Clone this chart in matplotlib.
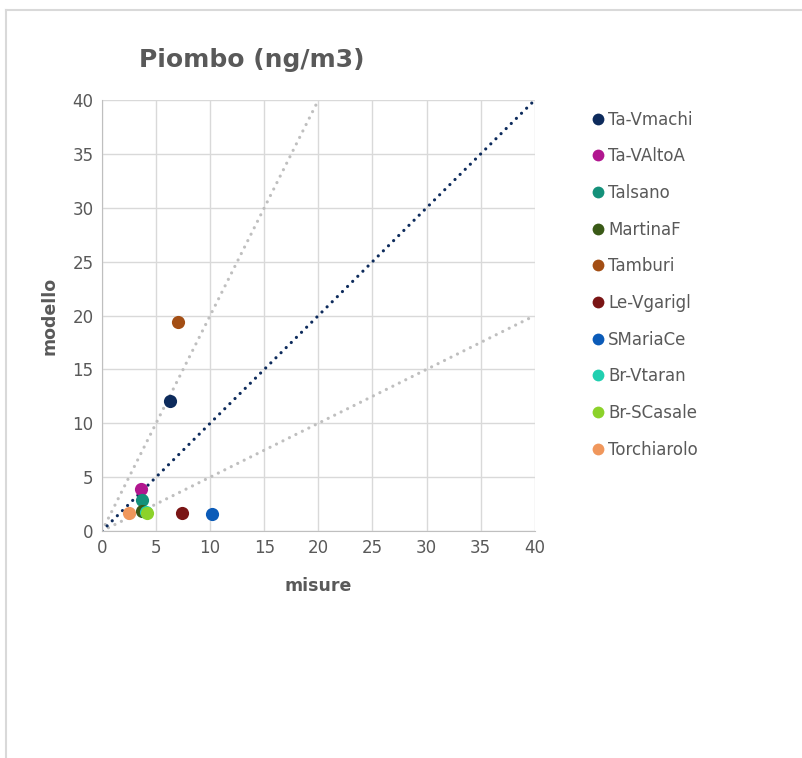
import matplotlib.pyplot as plt
from matplotlib.lines import Line2D

# Station data (measured vs modelled lead, ng/m3)
stations = ['Ta-Vmachi', 'Ta-VAltoA', 'Talsano', 'MartinaF', 'Tamburi',
            'Le-Vgarigl', 'SMariaCe', 'Br-Vtaran', 'Br-SCasale', 'Torchiarolo']
misure = [6.3, 3.6, 3.7, 3.7, 7.0, 7.4, 10.2, 4.1, 4.2, 2.5]
modello = [12.1, 3.9, 2.9, 1.9, 19.4, 1.7, 1.6, 1.8, 1.7, 1.7]
colors = ['#0d2b5c', '#b1168f', '#14917a', '#3a5a17', '#a34e14',
          '#7a1515', '#0b5bb8', '#20cfb0', '#8cd22a', '#f0975c']

ref_x = [0, 40]
ratio_1_1 = [0, 40]
ref_x_2 = [0, 20]
ratio_2_1 = [0, 40]
ratio_1_2 = [0, 20]

txt = '#595959'
grid = '#d9d9d9'
dots = (0, (0.01, 2.25))

fig = plt.figure(figsize=(8.03, 7.58), dpi=100)
ax = fig.add_axes([0.127, 0.2995, 0.539, 0.5685])

ax.plot(ref_x_2, ratio_2_1, color='#bfbfbf', lw=2.3, ls=dots,
        dash_capstyle='round', zorder=2)
ax.plot(ref_x, ratio_1_2, color='#bfbfbf', lw=2.3, ls=dots,
        dash_capstyle='round', zorder=2)
ax.plot(ref_x, ratio_1_1, color='#0d2b5c', lw=2.3, ls=dots,
        dash_capstyle='round', zorder=2)

for name, x, y, c in zip(stations, misure, modello, colors):
    ax.scatter(x, y, s=90, color=c, zorder=3, linewidths=0)

ax.set_xlim(0, 40)
ax.set_ylim(0, 40)
ax.set_xticks(range(0, 41, 5))
ax.set_yticks(range(0, 41, 5))
ax.grid(True, color=grid, lw=1)
ax.set_axisbelow(True)
for s in ['top', 'right']:
    ax.spines[s].set_visible(False)
for s in ['left', 'bottom']:
    ax.spines[s].set_color('#bfbfbf')
ax.tick_params(length=0, labelsize=12, colors=txt, pad=6)

ax.set_xlabel('misure', fontsize=12.5, fontweight='bold', color=txt, labelpad=14)
ax.set_ylabel('modello', fontsize=12.5, fontweight='bold', color=txt, labelpad=10)
fig.text(0.314, 0.921, 'Piombo (ng/m3)', fontsize=18, fontweight='bold',
         color=txt, ha='center', va='center')

handles = [Line2D([], [], ls='', marker='o', markersize=8.5, color=c, markeredgewidth=0)
           for c in colors]
fig.legend(handles, stations, loc='upper left', bbox_to_anchor=(0.728, 0.865),
           frameon=False, fontsize=12, labelcolor=txt, handlelength=0.6,
           handletextpad=0.3, labelspacing=1.12, borderpad=0)

# chart frame
fig.add_artist(Line2D([0.007, 1.0], [0.987, 0.987], color='#d9d9d9', lw=1.5))
fig.add_artist(Line2D([0.008, 0.008], [0.0, 0.987], color='#d9d9d9', lw=1.5))

fig.savefig('out.png', dpi=100)
